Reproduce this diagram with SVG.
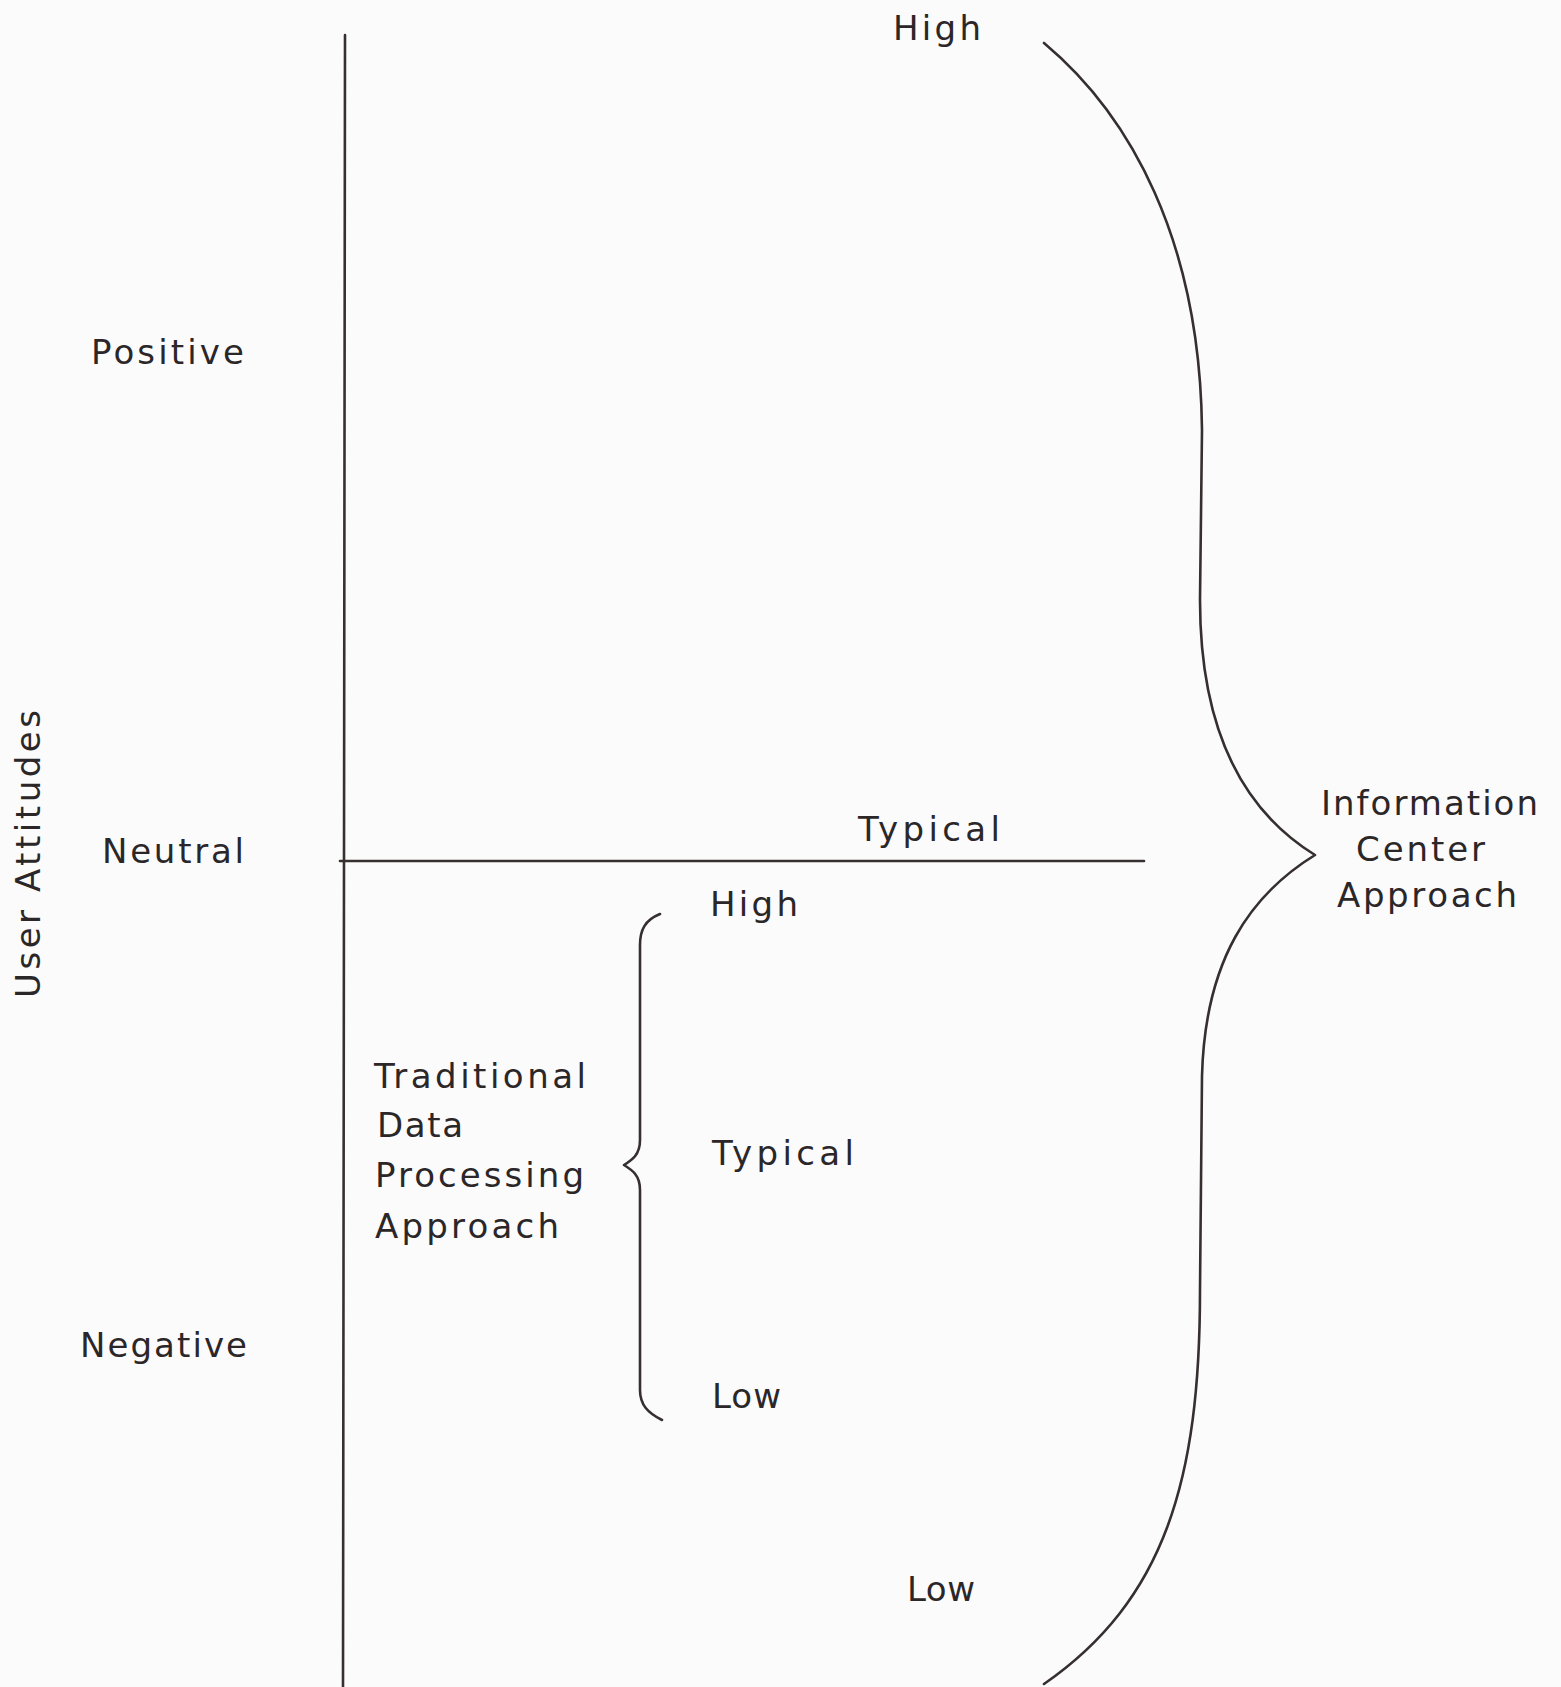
<svg xmlns="http://www.w3.org/2000/svg" width="1561" height="1687" viewBox="0 0 1561 1687">
<style>
.t{font-family:"DejaVu Sans","Liberation Sans",sans-serif;font-size:34px;fill:#2b2729;}
.ln{fill:none;stroke:#35302f;stroke-width:2.6;stroke-linecap:round;stroke-linejoin:round;}
</style>
<rect width="1561" height="1687" fill="#fcfbfb"/>
<g id="connectors">
<path class="ln" d="M345,35 L343,1687"/>
<path class="ln" d="M340,861 L1144,861"/>
<path id="big-brace" class="ln" d="M1044,43 C1130,115 1200,240 1202,430 L1200,600 C1200,740 1250,815 1315,855 C1250,895 1205,960 1202,1076 L1200,1290 C1200,1480 1165,1600 1044,1684"/>
<path id="small-brace" class="ln" d="M660,914 C645,920 640,930 640,945 L640,1140 C640,1155 632,1160 624,1165 C632,1170 640,1175 640,1190 L640,1390 C640,1405 648,1413 662,1420"/>
</g>
<g id="axis-label"><text class="t" transform="translate(40,998) rotate(-90)" textLength="288" lengthAdjust="spacing">User Attitudes</text></g>
<g id="positive"><text class="t" x="91" y="364" textLength="153" lengthAdjust="spacing">Positive</text></g>
<g id="neutral"><text class="t" x="102" y="863" textLength="142" lengthAdjust="spacing">Neutral</text></g>
<g id="negative"><text class="t" x="80" y="1357" textLength="167" lengthAdjust="spacing">Negative</text></g>
<g id="ic-high"><text class="t" x="893" y="40" textLength="88" lengthAdjust="spacing">High</text></g>
<g id="ic-typical"><text class="t" x="858" y="841" textLength="142" lengthAdjust="spacing">Typical</text></g>
<g id="ic-low"><text class="t" x="907" y="1601" textLength="68" lengthAdjust="spacing">Low</text></g>
<g id="dp-high"><text class="t" x="710" y="916" textLength="88" lengthAdjust="spacing">High</text></g>
<g id="dp-typical"><text class="t" x="712" y="1165" textLength="142" lengthAdjust="spacing">Typical</text></g>
<g id="dp-low"><text class="t" x="712" y="1408" textLength="69" lengthAdjust="spacing">Low</text></g>
<g id="traditional-dp">
<text class="t" x="374" y="1088" textLength="212" lengthAdjust="spacing">Traditional</text>
<text class="t" x="377" y="1137" textLength="86" lengthAdjust="spacing">Data</text>
<text class="t" x="375" y="1187" textLength="209" lengthAdjust="spacing">Processing</text>
<text class="t" x="375" y="1238" textLength="184" lengthAdjust="spacing">Approach</text>
</g>
<g id="information-center">
<text class="t" x="1321" y="815" textLength="217" lengthAdjust="spacing">Information</text>
<text class="t" x="1356" y="861" textLength="129" lengthAdjust="spacing">Center</text>
<text class="t" x="1337" y="907" textLength="180" lengthAdjust="spacing">Approach</text>
</g>
</svg>
